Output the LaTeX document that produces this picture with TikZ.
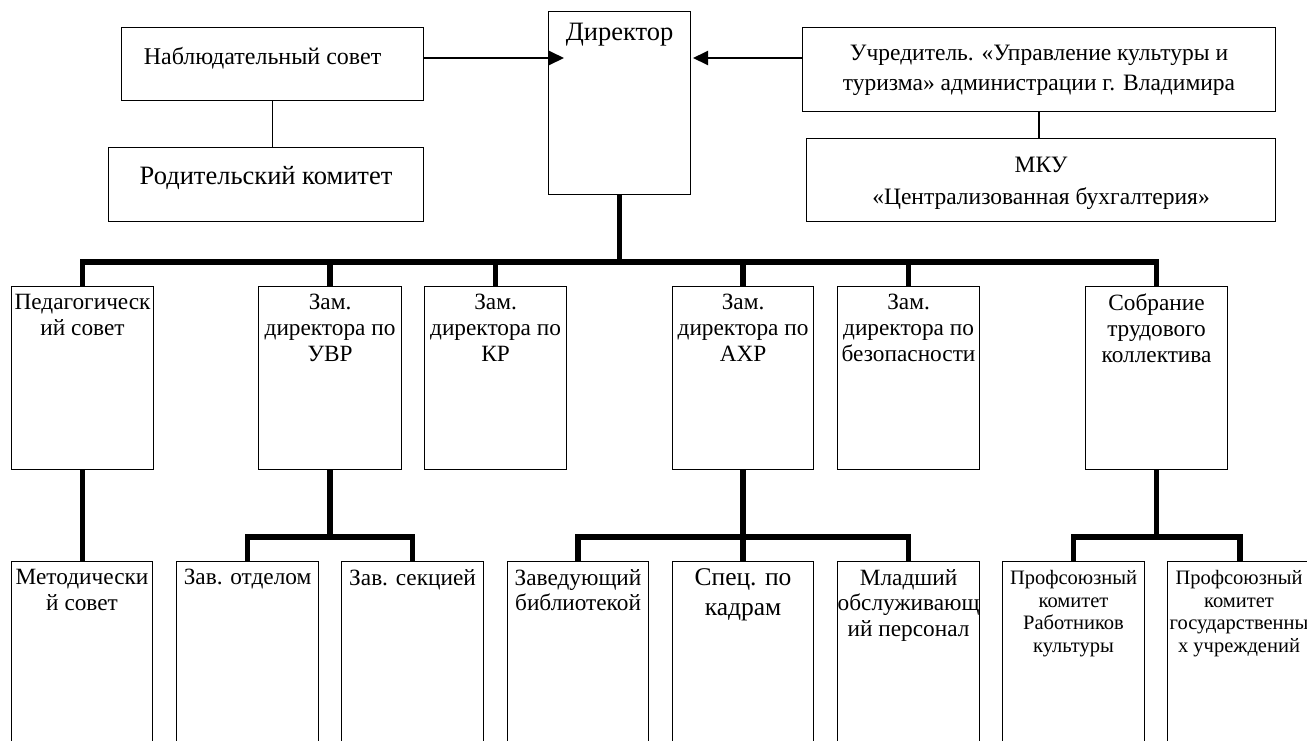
\documentclass[tikz,border=0pt]{standalone}
\usepackage{fontspec}
\setmainfont{Liberation Serif}
\usetikzlibrary{arrows.meta}

\newcommand{\orghead}{\fontsize{26.5}{32}\selectfont}
\newcommand{\orgmid}{\fontsize{24}{28}\selectfont}
\newcommand{\orgright}{\fontsize{23.5}{30}\selectfont}
\newcommand{\orgmku}{\fontsize{23.5}{32}\selectfont}
\newcommand{\orgrow}{\fontsize{23.3}{25.7}\selectfont}
\newcommand{\orgkad}{\fontsize{25.5}{30}\selectfont}
\newcommand{\orgsmall}{\fontsize{20.5}{22.7}\selectfont}

\begin{document}
\begin{tikzpicture}[x=1pt,y=-1pt,>={Triangle[length=15pt,width=14pt]},
  unit/.style={draw,line width=1.1pt,anchor=north west,inner sep=0pt},
  boxtext/.style={anchor=north,align=center,inner sep=0pt},
  trunk/.style={line width=5.5pt},
  thin link/.style={line width=1.3pt}]
  \useasboundingbox (0,0) rectangle (1307,740);
  \clip (0,0) rectangle (1307,740);

  % top level
  \node[unit,minimum width=302pt,minimum height=73pt,
    label={[boxtext,font=\orgmid,xshift=-10pt,yshift=-20pt]north:Наблюдательный совет}] (nab) at (121,27) {};
  \node[unit,minimum width=315pt,minimum height=74pt,
    label={[boxtext,font=\orghead,yshift=-19pt]north:Родительский комитет}] (rod) at (108,147) {};
  \node[unit,minimum width=142pt,minimum height=183pt,
    label={[boxtext,font=\orghead,yshift=-12pt]north:Директор}] (dir) at (548,11) {};
  \node[unit,minimum width=473pt,minimum height=84pt,
    label={[boxtext,font=\orgright,yshift=-18pt]north:Учредитель. «Управление культуры и\\туризма» администрации г. Владимира}] (ucr) at (802,27) {};
  \node[unit,minimum width=469pt,minimum height=83pt,
    label={[boxtext,font=\orgmku,yshift=-19pt]north:МКУ\\«Централизованная бухгалтерия»}] (mku) at (806,138) {};

  % second row
  \foreach \id/\x/\w/\txt in {ped/11/142/{Педагогическ\\ий совет},
      uvr/258/143/{Зам.\\директора по\\УВР}, kr/424/142/{Зам.\\директора по\\КР},
      ahr/672/141/{Зам.\\директора по\\АХР}, bez/837/142/{Зам.\\директора по\\безопасности},
      sob/1085/142/{Собрание\\трудового\\коллектива}}
    \node[unit,minimum width=\w pt,minimum height=183pt,
      label={[boxtext,font=\orgrow,yshift=-8pt]north:\txt}] (\id) at (\x,286) {};

  % third row
  \foreach \id/\x/\w/\txt in {met/11/141/{Методически\\й совет},
      otd/176/142/{Зав. отделом}, sek/341/142/{Зав. секцией},
      bib/507/141/{Заведующий\\библиотекой}, mld/837/142/{Младший\\обслуживающ\\ий персонал}}
    \node[unit,minimum width=\w pt,minimum height=200pt,
      label={[boxtext,font=\orgrow,yshift=-8pt]north:\txt}] (\id) at (\x,561) {};
  \node[unit,minimum width=141pt,minimum height=200pt,
    label={[boxtext,font=\orgkad,yshift=-7.5pt]north:Спец. по\\кадрам}] (kad) at (672,561) {};
  \node[unit,minimum width=142pt,minimum height=200pt,
    label={[boxtext,font=\orgsmall,yshift=-9pt]north:Профсоюзный\\комитет\\Работников\\культуры}] (pk1) at (1002,561) {};
  \node[unit,minimum width=145pt,minimum height=200pt,
    label={[boxtext,font=\orgsmall,xshift=-1pt,yshift=-9pt]north:Профсоюзный\\комитет\\государственны\\х учреждений}] (pk2) at (1167,561) {};

  % links
  \coordinate (tipL) at (564,58);
  \coordinate (tipR) at (693,58);
  \draw[->,line width=2pt] (nab.east |- tipL) -- (tipL);
  \draw[->,line width=2pt] (ucr.west |- tipR) -- (tipR);
  \draw[thin link] (nab.south) -- (nab.south |- rod.north);
  \draw[thin link] (ucr.south) -- (ucr.south |- mku.north);

  \coordinate (hub) at (dir.south |- 0,262);
  \draw[trunk] (dir.south) -- (hub);
  \draw[trunk] (ped.north) |- (hub) -| (sob.north);
  \foreach \id in {uvr,kr,ahr,bez}
    \draw[trunk] (\id.north) -- (\id.north |- hub);

  \draw[trunk] (ped.south) -- (ped.south |- met.north);
  \draw[trunk] (ahr.south) -- (kad.north);
  \foreach \up/\l/\r in {uvr/otd/sek, ahr/bib/mld, sob/pk1/pk2} {
    \draw[trunk] (\up.south) -- (\up.south |- 0,537);
    \draw[trunk] (\l.north) |- (\up.south |- 0,537) -| (\r.north);
  }
\end{tikzpicture}
\end{document}
